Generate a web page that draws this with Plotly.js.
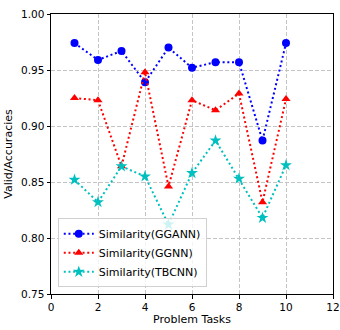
<!DOCTYPE html>
<html>
<head>
<meta charset="utf-8">
<script src="https://cdn.plot.ly/plotly-3.0.1.min.js"></script>
<style>html,body{margin:0;padding:0;background:#fff;}#chart{width:340px;height:330px;}</style>
</head>
<body>
<div id="chart"></div>
<script>
var tasks = [1, 2, 3, 4, 5, 6, 7, 8, 9, 10];
var ggann = [0.974, 0.959, 0.967, 0.939, 0.970, 0.952, 0.957, 0.957, 0.887, 0.974];
var ggnn = [0.925, 0.923, 0.864, 0.948, 0.846, 0.923, 0.914, 0.929, 0.832, 0.924];
var tbcnn = [0.852, 0.832, 0.864, 0.855, 0.812, 0.858, 0.887, 0.853, 0.818, 0.865];
var names = ['Similarity(GGANN)', 'Similarity(GGNN)', 'Similarity(TBCNN)'];
var xTicks = [0, 2, 4, 6, 8, 10, 12];
var yTicks = [0.75, 0.80, 0.85, 0.90, 0.95, 1.00];

function tr(y, name, color, symbol, size) {
  return {
    x: tasks, y: y, name: name, type: 'scatter', mode: 'lines+markers',
    line: {color: color, width: 2, dash: '2px,2.7px'},
    marker: {color: color, symbol: symbol, size: size, line: {width: 0}}
  };
}
var data = [
  tr(ggann, names[0], '#0000ff', 'circle', 8),
  tr(ggnn, names[1], '#ff0000', 'triangle-up', 8),
  tr(tbcnn, names[2], '#00bfbf', 'star', 9)
];
var font = {family: 'DejaVu Sans', size: 10, color: '#000'};
var axisCommon = {
  ticks: 'outside', ticklen: 3.5, tickcolor: '#000', tickwidth: 1,
  showline: true, linecolor: '#000', linewidth: 1, mirror: true,
  showgrid: true, gridcolor: '#c4c4c4', griddash: '4px,2px', gridwidth: 1,
  zeroline: false, tickfont: {family: 'DejaVu Sans', size: 10.5, color: '#000'}
};
var layout = {
  width: 340, height: 330,
  margin: {l: 51, r: 7, t: 14, b: 36},
  paper_bgcolor: '#fff', plot_bgcolor: '#fff',
  font: font,
  showlegend: true,
  xaxis: Object.assign({}, axisCommon, {
    range: [0, 12], tickvals: xTicks, ticktext: xTicks.map(String),
    title: {text: 'Problem Tasks', font: {family: 'DejaVu Sans', size: 11, color: '#000'}, standoff: 3}
  }),
  yaxis: Object.assign({}, axisCommon, {
    range: [0.75, 1.0], tickvals: yTicks, ticktext: yTicks.map(function(v){return v.toFixed(2);}),
    title: {text: 'Valid/Accuracies', font: {family: 'DejaVu Sans', size: 11, color: '#000'}, standoff: 6}
  }),
  legend: {
    x: 0.024, y: 0.024, xanchor: 'left', yanchor: 'bottom',
    bgcolor: 'rgba(255,255,255,0.8)', bordercolor: '#d0d0d0', borderwidth: 1,
    font: {family: 'DejaVu Sans', size: 11, color: '#000'},
    tracegroupgap: 0, itemwidth: 30
  }
};
Plotly.newPlot('chart', data, layout, {displayModeBar: false, staticPlot: true});
</script>
</body>
</html>
